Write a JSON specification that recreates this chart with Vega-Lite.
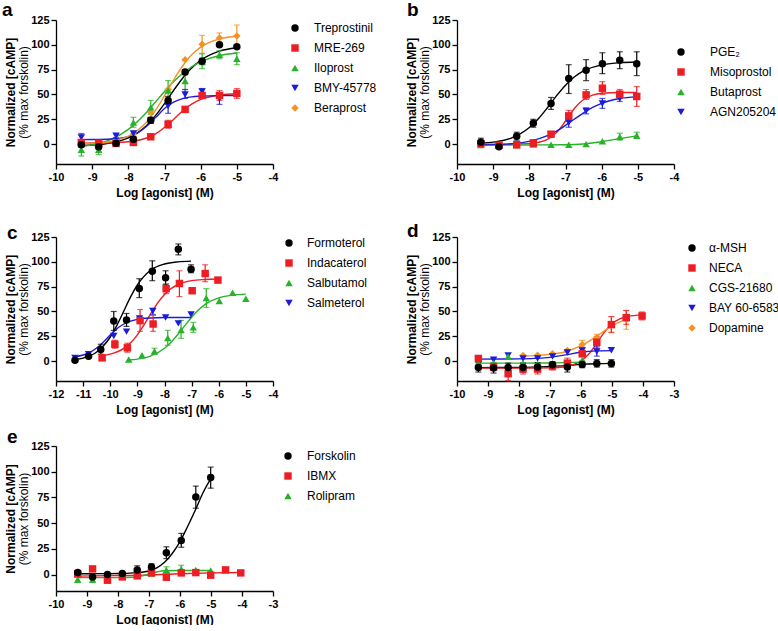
{
"$schema":"https://vega.github.io/schema/vega-lite/v6.json",
"background":"white",
"padding":{"left":2,"top":1,"right":0,"bottom":0},
"datasets":{
"a_pts":[
{"s":"Beraprost","x":-9.3,"y":1},{"s":"Beraprost","x":-8.82,"y":1.5},{"s":"Beraprost","x":-8.34,"y":1.5},{"s":"Beraprost","x":-7.86,"y":10},{"s":"Beraprost","x":-7.38,"y":32},{"s":"Beraprost","x":-6.9,"y":55},{"s":"Beraprost","x":-6.43,"y":85},{"s":"Beraprost","x":-5.96,"y":100.5,"lo":91.5,"hi":109.5},{"s":"Beraprost","x":-5.48,"y":107,"lo":102,"hi":112},{"s":"Beraprost","x":-5.0,"y":109,"lo":98,"hi":120},
{"s":"BMY-45778","x":-9.3,"y":6.7,"lo":2.7,"hi":10.7},{"s":"BMY-45778","x":-8.82,"y":2},{"s":"BMY-45778","x":-8.34,"y":8.4,"lo":6.4,"hi":10.4},{"s":"BMY-45778","x":-7.86,"y":10.7},{"s":"BMY-45778","x":-7.38,"y":23.5,"lo":21,"hi":26},{"s":"BMY-45778","x":-6.9,"y":38.5,"lo":31,"hi":46},{"s":"BMY-45778","x":-6.43,"y":50,"lo":46,"hi":55},{"s":"BMY-45778","x":-5.96,"y":53,"lo":50,"hi":56},{"s":"BMY-45778","x":-5.48,"y":46,"lo":40,"hi":50},
{"s":"Iloprost","x":-9.3,"y":-5.7,"lo":-12,"hi":1},{"s":"Iloprost","x":-8.82,"y":-5.7,"lo":-10.5,"hi":-1},{"s":"Iloprost","x":-8.34,"y":1.7},{"s":"Iloprost","x":-7.86,"y":21.8,"lo":17,"hi":27},{"s":"Iloprost","x":-7.38,"y":37,"lo":30,"hi":44},{"s":"Iloprost","x":-6.9,"y":54,"lo":45,"hi":64},{"s":"Iloprost","x":-6.43,"y":63.5,"lo":55,"hi":70},{"s":"Iloprost","x":-5.96,"y":82.8,"lo":76,"hi":91},{"s":"Iloprost","x":-5.48,"y":90,"lo":86,"hi":94},{"s":"Iloprost","x":-5.0,"y":86,"lo":80,"hi":92},
{"s":"MRE-269","x":-9.3,"y":1.7,"lo":-0.5,"hi":4},{"s":"MRE-269","x":-8.82,"y":1},{"s":"MRE-269","x":-8.34,"y":0.7},{"s":"MRE-269","x":-7.86,"y":1.7,"lo":0,"hi":3.5},{"s":"MRE-269","x":-7.38,"y":7.4},{"s":"MRE-269","x":-6.9,"y":20,"lo":16,"hi":24},{"s":"MRE-269","x":-6.43,"y":35,"lo":32.5,"hi":37.5},{"s":"MRE-269","x":-5.96,"y":49,"lo":46.5,"hi":51.5},{"s":"MRE-269","x":-5.48,"y":49,"lo":44,"hi":54},{"s":"MRE-269","x":-5.0,"y":51,"lo":46,"hi":56},
{"s":"Treprostinil","x":-9.3,"y":-0.7,"lo":-3,"hi":1.5},{"s":"Treprostinil","x":-8.82,"y":-2.7,"lo":-5,"hi":-0.5},{"s":"Treprostinil","x":-8.34,"y":1},{"s":"Treprostinil","x":-7.86,"y":5,"lo":2.5,"hi":7.5},{"s":"Treprostinil","x":-7.38,"y":24,"lo":21,"hi":27},{"s":"Treprostinil","x":-6.9,"y":44,"lo":40,"hi":48},{"s":"Treprostinil","x":-6.43,"y":72.7,"lo":70,"hi":75},{"s":"Treprostinil","x":-5.96,"y":83.5,"lo":80.5,"hi":86.5},{"s":"Treprostinil","x":-5.48,"y":100},{"s":"Treprostinil","x":-5.0,"y":98}
],
"a_fit":[
{"s":"Treprostinil","x":-9.3,"y":-1.4},{"s":"Treprostinil","x":-9,"y":-0.9},{"s":"Treprostinil","x":-8.5,"y":1.2},{"s":"Treprostinil","x":-8,"y":6.4},{"s":"Treprostinil","x":-7.5,"y":18.6},{"s":"Treprostinil","x":-7.25,"y":28.7},{"s":"Treprostinil","x":-7,"y":40.8},{"s":"Treprostinil","x":-6.75,"y":54},{"s":"Treprostinil","x":-6.5,"y":66.3},{"s":"Treprostinil","x":-6.25,"y":76.7},{"s":"Treprostinil","x":-6,"y":84.4},{"s":"Treprostinil","x":-5.5,"y":93.4},{"s":"Treprostinil","x":-5,"y":97},
{"s":"MRE-269","x":-9.3,"y":1},{"s":"MRE-269","x":-9,"y":1.1},{"s":"MRE-269","x":-8.5,"y":1.4},{"s":"MRE-269","x":-8,"y":2.4},{"s":"MRE-269","x":-7.5,"y":6.2},{"s":"MRE-269","x":-7.25,"y":10.3},{"s":"MRE-269","x":-7,"y":16.8},{"s":"MRE-269","x":-6.75,"y":24.9},{"s":"MRE-269","x":-6.5,"y":33.4},{"s":"MRE-269","x":-6.25,"y":40.2},{"s":"MRE-269","x":-6,"y":45},{"s":"MRE-269","x":-5.5,"y":49.4},{"s":"MRE-269","x":-5,"y":50.8},
{"s":"Iloprost","x":-9.3,"y":-2.4},{"s":"Iloprost","x":-9,"y":-0.8},{"s":"Iloprost","x":-8.5,"y":4.5},{"s":"Iloprost","x":-8,"y":14.9},{"s":"Iloprost","x":-7.5,"y":31.9},{"s":"Iloprost","x":-7.25,"y":42.4},{"s":"Iloprost","x":-7,"y":53},{"s":"Iloprost","x":-6.75,"y":62.8},{"s":"Iloprost","x":-6.5,"y":71.2},{"s":"Iloprost","x":-6.25,"y":77.9},{"s":"Iloprost","x":-6,"y":82.9},{"s":"Iloprost","x":-5.5,"y":89},{"s":"Iloprost","x":-5,"y":91.8},
{"s":"BMY-45778","x":-9.3,"y":4.5},{"s":"BMY-45778","x":-9,"y":4.6},{"s":"BMY-45778","x":-8.5,"y":5.1},{"s":"BMY-45778","x":-8,"y":7.6},{"s":"BMY-45778","x":-7.75,"y":11.2},{"s":"BMY-45778","x":-7.5,"y":17.7},{"s":"BMY-45778","x":-7.25,"y":26.7},{"s":"BMY-45778","x":-7,"y":35.8},{"s":"BMY-45778","x":-6.75,"y":42.3},{"s":"BMY-45778","x":-6.5,"y":45.9},{"s":"BMY-45778","x":-6.25,"y":47.6},{"s":"BMY-45778","x":-6,"y":48.3},{"s":"BMY-45778","x":-5.5,"y":48.9},{"s":"BMY-45778","x":-5,"y":49},
{"s":"Beraprost","x":-9.3,"y":0.4},{"s":"Beraprost","x":-9,"y":0.9},{"s":"Beraprost","x":-8.5,"y":2.7},{"s":"Beraprost","x":-8,"y":8.1},{"s":"Beraprost","x":-7.75,"y":13.6},{"s":"Beraprost","x":-7.5,"y":22.1},{"s":"Beraprost","x":-7.25,"y":34},{"s":"Beraprost","x":-7,"y":48.7},{"s":"Beraprost","x":-6.75,"y":64.4},{"s":"Beraprost","x":-6.5,"y":78.7},{"s":"Beraprost","x":-6.25,"y":89.9},{"s":"Beraprost","x":-6,"y":97.7},{"s":"Beraprost","x":-5.5,"y":105.8},{"s":"Beraprost","x":-5,"y":108.6}
],
"b_pts":[
{"s":"AGN205204","x":-9.34,"y":0},{"s":"AGN205204","x":-8.84,"y":-1},{"s":"AGN205204","x":-8.35,"y":-0.3},{"s":"AGN205204","x":-7.89,"y":1.5},{"s":"AGN205204","x":-7.4,"y":10},{"s":"AGN205204","x":-6.91,"y":21.8,"lo":17,"hi":27},{"s":"AGN205204","x":-6.43,"y":33.5,"lo":30.5,"hi":36.5},{"s":"AGN205204","x":-5.98,"y":41,"lo":36,"hi":46},{"s":"AGN205204","x":-5.5,"y":46,"lo":43,"hi":49},{"s":"AGN205204","x":-5.03,"y":48,"lo":45,"hi":51},
{"s":"Butaprost","x":-9.34,"y":-1},{"s":"Butaprost","x":-8.84,"y":-1},{"s":"Butaprost","x":-8.35,"y":-1},{"s":"Butaprost","x":-7.89,"y":-0.3},{"s":"Butaprost","x":-7.4,"y":-0.7},{"s":"Butaprost","x":-6.91,"y":-0.7},{"s":"Butaprost","x":-6.43,"y":0},{"s":"Butaprost","x":-5.98,"y":3},{"s":"Butaprost","x":-5.5,"y":7.4,"lo":4,"hi":11},{"s":"Butaprost","x":-5.03,"y":8.7,"lo":5.5,"hi":12},
{"s":"Misoprostol","x":-9.34,"y":0.5},{"s":"Misoprostol","x":-8.84,"y":-1},{"s":"Misoprostol","x":-8.35,"y":-0.7},{"s":"Misoprostol","x":-7.89,"y":1},{"s":"Misoprostol","x":-7.4,"y":10,"lo":8,"hi":12},{"s":"Misoprostol","x":-6.91,"y":28.5,"lo":23,"hi":34},{"s":"Misoprostol","x":-6.43,"y":49.6,"lo":45,"hi":55},{"s":"Misoprostol","x":-5.98,"y":56.3,"lo":50,"hi":63},{"s":"Misoprostol","x":-5.5,"y":50.3,"lo":46,"hi":55},{"s":"Misoprostol","x":-5.03,"y":48,"lo":38,"hi":58},
{"s":"PGE₂","x":-9.34,"y":2,"lo":-2,"hi":6},{"s":"PGE₂","x":-8.84,"y":-2.7},{"s":"PGE₂","x":-8.35,"y":8,"lo":4,"hi":12},{"s":"PGE₂","x":-7.89,"y":21,"lo":17,"hi":25},{"s":"PGE₂","x":-7.4,"y":41,"lo":35,"hi":47},{"s":"PGE₂","x":-6.91,"y":66,"lo":51,"hi":80},{"s":"PGE₂","x":-6.43,"y":74.4,"lo":64,"hi":85},{"s":"PGE₂","x":-5.98,"y":81,"lo":71,"hi":92},{"s":"PGE₂","x":-5.5,"y":84.5,"lo":76,"hi":93},{"s":"PGE₂","x":-5.03,"y":81,"lo":69,"hi":93}
],
"b_fit":[
{"s":"PGE₂","x":-9.34,"y":1},{"s":"PGE₂","x":-9,"y":2},{"s":"PGE₂","x":-8.5,"y":6.1},{"s":"PGE₂","x":-8,"y":16.7},{"s":"PGE₂","x":-7.75,"y":25.6},{"s":"PGE₂","x":-7.5,"y":36.7},{"s":"PGE₂","x":-7.25,"y":48.6},{"s":"PGE₂","x":-7,"y":59.4},{"s":"PGE₂","x":-6.75,"y":67.8},{"s":"PGE₂","x":-6.5,"y":73.7},{"s":"PGE₂","x":-6,"y":79.8},{"s":"PGE₂","x":-5.5,"y":82},{"s":"PGE₂","x":-5.03,"y":82.7},
{"s":"Misoprostol","x":-9.34,"y":0},{"s":"Misoprostol","x":-8.5,"y":0},{"s":"Misoprostol","x":-8,"y":0.5},{"s":"Misoprostol","x":-7.75,"y":1.8},{"s":"Misoprostol","x":-7.5,"y":4.8},{"s":"Misoprostol","x":-7.25,"y":11.6},{"s":"Misoprostol","x":-7,"y":23.3},{"s":"Misoprostol","x":-6.75,"y":36.2},{"s":"Misoprostol","x":-6.5,"y":45},{"s":"Misoprostol","x":-6.25,"y":49.3},{"s":"Misoprostol","x":-6,"y":51.2},{"s":"Misoprostol","x":-5.5,"y":52},{"s":"Misoprostol","x":-5.03,"y":52},
{"s":"Butaprost","x":-9.34,"y":-0.8},{"s":"Butaprost","x":-8,"y":-0.8},{"s":"Butaprost","x":-7,"y":-0.6},{"s":"Butaprost","x":-6.5,"y":0.2},{"s":"Butaprost","x":-6,"y":2.4},{"s":"Butaprost","x":-5.5,"y":5.6},{"s":"Butaprost","x":-5.03,"y":8.3},
{"s":"AGN205204","x":-9.34,"y":-0.7},{"s":"AGN205204","x":-9,"y":-0.5},{"s":"AGN205204","x":-8.5,"y":0.4},{"s":"AGN205204","x":-8,"y":2.8},{"s":"AGN205204","x":-7.5,"y":8.5},{"s":"AGN205204","x":-7.25,"y":13.1},{"s":"AGN205204","x":-7,"y":18.9},{"s":"AGN205204","x":-6.75,"y":25.3},{"s":"AGN205204","x":-6.5,"y":31.5},{"s":"AGN205204","x":-6.25,"y":36.9},{"s":"AGN205204","x":-6,"y":41},{"s":"AGN205204","x":-5.5,"y":45.9},{"s":"AGN205204","x":-5.03,"y":47.8}
],
"c_pts":[
{"s":"Salmeterol","x":-11.3,"y":3.3},{"s":"Salmeterol","x":-10.8,"y":7},{"s":"Salmeterol","x":-9.87,"y":25.4},{"s":"Salmeterol","x":-9.4,"y":29.7},{"s":"Salmeterol","x":-8.92,"y":43},{"s":"Salmeterol","x":-8.43,"y":50.5,"lo":47,"hi":53},{"s":"Salmeterol","x":-7.96,"y":44},{"s":"Salmeterol","x":-7.49,"y":38},{"s":"Salmeterol","x":-7.02,"y":47},
{"s":"Salbutamol","x":-9.32,"y":1.7},{"s":"Salbutamol","x":-8.83,"y":6},{"s":"Salbutamol","x":-8.37,"y":10,"lo":7,"hi":13},{"s":"Salbutamol","x":-7.88,"y":23.4,"lo":16,"hi":31},{"s":"Salbutamol","x":-7.39,"y":31.4,"lo":23,"hi":41},{"s":"Salbutamol","x":-6.94,"y":34,"lo":29,"hi":39},{"s":"Salbutamol","x":-6.46,"y":63.5,"lo":54,"hi":73},{"s":"Salbutamol","x":-5.98,"y":60.5},{"s":"Salbutamol","x":-5.49,"y":68.8},{"s":"Salbutamol","x":-5.0,"y":62.8},
{"s":"Indacaterol","x":-10.3,"y":3.3},{"s":"Indacaterol","x":-9.83,"y":17,"lo":13,"hi":21},{"s":"Indacaterol","x":-9.37,"y":13.4,"lo":9,"hi":18},{"s":"Indacaterol","x":-8.9,"y":40.8,"lo":30,"hi":52},{"s":"Indacaterol","x":-8.42,"y":37.4,"lo":30,"hi":46},{"s":"Indacaterol","x":-7.94,"y":72.9,"lo":68,"hi":78},{"s":"Indacaterol","x":-7.45,"y":78.2,"lo":65,"hi":91},{"s":"Indacaterol","x":-6.98,"y":70.9},{"s":"Indacaterol","x":-6.5,"y":88.2,"lo":80,"hi":97},{"s":"Indacaterol","x":-6.03,"y":81.6},
{"s":"Formoterol","x":-11.3,"y":1},{"s":"Formoterol","x":-10.8,"y":5},{"s":"Formoterol","x":-10.35,"y":11.7,"lo":7,"hi":17},{"s":"Formoterol","x":-9.87,"y":40.4,"lo":31,"hi":50},{"s":"Formoterol","x":-9.4,"y":41.4,"lo":35,"hi":48},{"s":"Formoterol","x":-8.93,"y":73.2,"lo":64,"hi":83},{"s":"Formoterol","x":-8.45,"y":90.6,"lo":81,"hi":101},{"s":"Formoterol","x":-7.96,"y":84,"lo":77,"hi":91},{"s":"Formoterol","x":-7.49,"y":112.7,"lo":107,"hi":118},{"s":"Formoterol","x":-7.02,"y":92.6,"lo":89,"hi":97}
],
"c_fit":[
{"s":"Formoterol","x":-11.3,"y":1.6},{"s":"Formoterol","x":-11,"y":3.1},{"s":"Formoterol","x":-10.5,"y":9.2},{"s":"Formoterol","x":-10,"y":24.3},{"s":"Formoterol","x":-9.75,"y":36.3},{"s":"Formoterol","x":-9.5,"y":50.5},{"s":"Formoterol","x":-9.25,"y":64.7},{"s":"Formoterol","x":-9,"y":76.7},{"s":"Formoterol","x":-8.5,"y":91.8},{"s":"Formoterol","x":-8,"y":97.8},{"s":"Formoterol","x":-7.5,"y":100},{"s":"Formoterol","x":-7.02,"y":100.7},
{"s":"Indacaterol","x":-10.3,"y":5.5},{"s":"Indacaterol","x":-10,"y":7},{"s":"Indacaterol","x":-9.5,"y":12.8},{"s":"Indacaterol","x":-9.25,"y":18.4},{"s":"Indacaterol","x":-9,"y":26.5},{"s":"Indacaterol","x":-8.75,"y":36.8},{"s":"Indacaterol","x":-8.5,"y":48},{"s":"Indacaterol","x":-8.25,"y":58.6},{"s":"Indacaterol","x":-8,"y":67.2},{"s":"Indacaterol","x":-7.5,"y":77.2},{"s":"Indacaterol","x":-7,"y":81.1},{"s":"Indacaterol","x":-6.5,"y":82.2},{"s":"Indacaterol","x":-6.03,"y":82.7},
{"s":"Salbutamol","x":-9.32,"y":1.1},{"s":"Salbutamol","x":-9,"y":2},{"s":"Salbutamol","x":-8.5,"y":5.3},{"s":"Salbutamol","x":-8,"y":13},{"s":"Salbutamol","x":-7.75,"y":19.3},{"s":"Salbutamol","x":-7.5,"y":27.2},{"s":"Salbutamol","x":-7.25,"y":35.8},{"s":"Salbutamol","x":-7,"y":44.2},{"s":"Salbutamol","x":-6.75,"y":51.5},{"s":"Salbutamol","x":-6.5,"y":57.2},{"s":"Salbutamol","x":-6,"y":63.7},{"s":"Salbutamol","x":-5.5,"y":66.5},{"s":"Salbutamol","x":-5,"y":67.5},
{"s":"Salmeterol","x":-11.3,"y":4.4},{"s":"Salmeterol","x":-11,"y":6.2},{"s":"Salmeterol","x":-10.75,"y":8.9},{"s":"Salmeterol","x":-10.5,"y":13.2},{"s":"Salmeterol","x":-10.25,"y":19.3},{"s":"Salmeterol","x":-10,"y":26.3},{"s":"Salmeterol","x":-9.75,"y":32.7},{"s":"Salmeterol","x":-9.5,"y":37.4},{"s":"Salmeterol","x":-9,"y":42.1},{"s":"Salmeterol","x":-8.5,"y":43.5},{"s":"Salmeterol","x":-8,"y":43.9},{"s":"Salmeterol","x":-7.02,"y":44}
],
"d_pts":[
{"s":"Dopamine","x":-7.87,"y":5.7},{"s":"Dopamine","x":-7.4,"y":6},{"s":"Dopamine","x":-6.92,"y":7.4},{"s":"Dopamine","x":-6.44,"y":10.7},{"s":"Dopamine","x":-5.96,"y":16.7,"lo":12.5,"hi":21},{"s":"Dopamine","x":-5.49,"y":23.4,"lo":19.5,"hi":27},{"s":"Dopamine","x":-5.02,"y":36.4,"lo":28.5,"hi":44.5},{"s":"Dopamine","x":-4.54,"y":42,"lo":32,"hi":51},
{"s":"BAY 60-6583","x":-9.31,"y":2},{"s":"BAY 60-6583","x":-8.82,"y":1.3},{"s":"BAY 60-6583","x":-8.35,"y":5.7},{"s":"BAY 60-6583","x":-7.87,"y":2.7},{"s":"BAY 60-6583","x":-7.4,"y":2.7},{"s":"BAY 60-6583","x":-6.92,"y":4.7},{"s":"BAY 60-6583","x":-6.44,"y":8.7},{"s":"BAY 60-6583","x":-5.96,"y":10.7,"lo":7,"hi":14},{"s":"BAY 60-6583","x":-5.49,"y":9.7,"lo":5,"hi":14.5},{"s":"BAY 60-6583","x":-5.02,"y":11},
{"s":"CGS-21680","x":-9.31,"y":-1.5},{"s":"CGS-21680","x":-8.82,"y":-2},{"s":"CGS-21680","x":-8.35,"y":4.7},{"s":"CGS-21680","x":-7.87,"y":-2},{"s":"CGS-21680","x":-7.4,"y":-2.5},{"s":"CGS-21680","x":-6.92,"y":-2},{"s":"CGS-21680","x":-6.44,"y":-1},{"s":"CGS-21680","x":-5.96,"y":1},
{"s":"NECA","x":-9.31,"y":2.7},{"s":"NECA","x":-8.82,"y":-6},{"s":"NECA","x":-8.35,"y":-12.7,"lo":-19.5,"hi":-6},{"s":"NECA","x":-7.87,"y":-8,"lo":-13,"hi":-3},{"s":"NECA","x":-7.4,"y":-8,"lo":-13,"hi":-3},{"s":"NECA","x":-6.92,"y":-5,"lo":-9,"hi":-1},{"s":"NECA","x":-6.44,"y":-2,"lo":-7,"hi":3},{"s":"NECA","x":-5.96,"y":7.4,"lo":4.5,"hi":10.5},{"s":"NECA","x":-5.49,"y":19,"lo":13,"hi":25},{"s":"NECA","x":-5.02,"y":36.8,"lo":29,"hi":45},{"s":"NECA","x":-4.54,"y":43.8,"lo":37,"hi":51},{"s":"NECA","x":-4.03,"y":45.5,"lo":41.5,"hi":49.5},
{"s":"α-MSH","x":-9.31,"y":-6.4,"lo":-11,"hi":-1.5},{"s":"α-MSH","x":-8.82,"y":-7,"lo":-12,"hi":-2},{"s":"α-MSH","x":-8.35,"y":-6.4,"lo":-11,"hi":-2},{"s":"α-MSH","x":-7.87,"y":-6.4,"lo":-11,"hi":-2},{"s":"α-MSH","x":-7.4,"y":-6,"lo":-10.5,"hi":-1.5},{"s":"α-MSH","x":-6.92,"y":-3.7,"lo":-7,"hi":-0.5},{"s":"α-MSH","x":-6.44,"y":-6,"lo":-11,"hi":-1},{"s":"α-MSH","x":-5.96,"y":-3.3,"lo":-6.5,"hi":0},{"s":"α-MSH","x":-5.49,"y":-2.3,"lo":-6,"hi":1.5},{"s":"α-MSH","x":-5.02,"y":-2.3,"lo":-6,"hi":1.5}
],
"d_fit":[
{"s":"α-MSH","x":-9.31,"y":-6.5},{"s":"α-MSH","x":-8,"y":-6.3},{"s":"α-MSH","x":-7,"y":-5.3},{"s":"α-MSH","x":-6.5,"y":-4.5},{"s":"α-MSH","x":-6,"y":-3.3},{"s":"α-MSH","x":-5.5,"y":-2.6},{"s":"α-MSH","x":-5.02,"y":-2.3},
{"s":"NECA","x":-9.31,"y":-7},{"s":"NECA","x":-8,"y":-7},{"s":"NECA","x":-7,"y":-6.7},{"s":"NECA","x":-6.5,"y":-5.6},{"s":"NECA","x":-6.25,"y":-3.5},{"s":"NECA","x":-6,"y":0},{"s":"NECA","x":-5.75,"y":7.1},{"s":"NECA","x":-5.5,"y":17.7},{"s":"NECA","x":-5.25,"y":29},{"s":"NECA","x":-5,"y":37.6},{"s":"NECA","x":-4.75,"y":42.6},{"s":"NECA","x":-4.5,"y":45},{"s":"NECA","x":-4.03,"y":46.6},
{"s":"CGS-21680","x":-9.31,"y":-2},{"s":"CGS-21680","x":-8,"y":-2},{"s":"CGS-21680","x":-7,"y":-1.8},{"s":"CGS-21680","x":-5.96,"y":-1},
{"s":"BAY 60-6583","x":-9.31,"y":2},{"s":"BAY 60-6583","x":-8.5,"y":2.1},{"s":"BAY 60-6583","x":-8,"y":2.3},{"s":"BAY 60-6583","x":-7.5,"y":2.8},{"s":"BAY 60-6583","x":-7,"y":3.8},{"s":"BAY 60-6583","x":-6.5,"y":6.3},{"s":"BAY 60-6583","x":-6,"y":9},{"s":"BAY 60-6583","x":-5.5,"y":10.3},{"s":"BAY 60-6583","x":-5.02,"y":10.6},
{"s":"Dopamine","x":-7.87,"y":5.2},{"s":"Dopamine","x":-7.5,"y":5.6},{"s":"Dopamine","x":-7,"y":6.8},{"s":"Dopamine","x":-6.5,"y":9.5},{"s":"Dopamine","x":-6,"y":15.5},{"s":"Dopamine","x":-5.5,"y":25},{"s":"Dopamine","x":-5,"y":35.5},{"s":"Dopamine","x":-4.54,"y":42}
],
"e_pts":[
{"s":"Rolipram","x":-9.3,"y":-4.8,"lo":-7.8,"hi":-1.8},{"s":"Rolipram","x":-8.82,"y":-4.8,"lo":-7.8,"hi":-1.8},{"s":"Rolipram","x":-8.34,"y":-3},{"s":"Rolipram","x":-7.86,"y":-2},{"s":"Rolipram","x":-7.38,"y":-1.6},{"s":"Rolipram","x":-6.92,"y":1},{"s":"Rolipram","x":-6.44,"y":4.5,"lo":1.5,"hi":7.5},{"s":"Rolipram","x":-5.96,"y":5.5,"lo":1.5,"hi":9},{"s":"Rolipram","x":-5.49,"y":4.5},{"s":"Rolipram","x":-5.01,"y":3.9},
{"s":"IBMX","x":-9.3,"y":0.5},{"s":"IBMX","x":-8.82,"y":5.5},{"s":"IBMX","x":-8.34,"y":-5.5},{"s":"IBMX","x":-7.86,"y":-2.3},{"s":"IBMX","x":-7.38,"y":-1},{"s":"IBMX","x":-6.92,"y":1.6},{"s":"IBMX","x":-6.44,"y":-2.6},{"s":"IBMX","x":-5.96,"y":1.6},{"s":"IBMX","x":-5.49,"y":1.9},{"s":"IBMX","x":-5.01,"y":-0.6},{"s":"IBMX","x":-4.53,"y":4.5},{"s":"IBMX","x":-4.04,"y":1.6},
{"s":"Forskolin","x":-9.3,"y":1.9},{"s":"Forskolin","x":-8.82,"y":-2.3},{"s":"Forskolin","x":-8.34,"y":0},{"s":"Forskolin","x":-7.86,"y":1},{"s":"Forskolin","x":-7.38,"y":4.5,"lo":0.5,"hi":8.5},{"s":"Forskolin","x":-6.92,"y":7.4,"lo":4.5,"hi":10.5},{"s":"Forskolin","x":-6.44,"y":21.3,"lo":15.5,"hi":27},{"s":"Forskolin","x":-5.96,"y":33,"lo":26.5,"hi":40},{"s":"Forskolin","x":-5.49,"y":75.3,"lo":64.5,"hi":86},{"s":"Forskolin","x":-5.01,"y":94.3,"lo":84,"hi":104.5}
],
"e_fit":[
{"s":"Forskolin","x":-9.3,"y":0.8},{"s":"Forskolin","x":-8.5,"y":0.9},{"s":"Forskolin","x":-8,"y":1},{"s":"Forskolin","x":-7.5,"y":1.6},{"s":"Forskolin","x":-7,"y":3.5},{"s":"Forskolin","x":-6.75,"y":6.5},{"s":"Forskolin","x":-6.5,"y":12},{"s":"Forskolin","x":-6.25,"y":20.5},{"s":"Forskolin","x":-6,"y":32},{"s":"Forskolin","x":-5.75,"y":47},{"s":"Forskolin","x":-5.5,"y":63},{"s":"Forskolin","x":-5.25,"y":80},{"s":"Forskolin","x":-5.01,"y":93},
{"s":"IBMX","x":-9.3,"y":-1.5},{"s":"IBMX","x":-8,"y":-1},{"s":"IBMX","x":-7,"y":-0.4},{"s":"IBMX","x":-6,"y":0.8},{"s":"IBMX","x":-5,"y":1.6},{"s":"IBMX","x":-4.04,"y":2},
{"s":"Rolipram","x":-9.3,"y":-3},{"s":"Rolipram","x":-8,"y":-3},{"s":"Rolipram","x":-7.5,"y":-2.6},{"s":"Rolipram","x":-7.25,"y":-1.5},{"s":"Rolipram","x":-7,"y":0.5},{"s":"Rolipram","x":-6.75,"y":2.5},{"s":"Rolipram","x":-6.5,"y":3.7},{"s":"Rolipram","x":-6,"y":4},{"s":"Rolipram","x":-5.01,"y":4}
]
},
"concat":[
{"width":217,"height":144,
"resolve":{"scale":{"y":"independent"},"axis":{"y":"independent"}},
"layer":[
{"data":{"name":"a_fit"},"mark":{"type":"line","interpolate":"monotone","strokeWidth":1.4},
"encoding":{"x":{"field":"x","type":"quantitative","scale":{"domain":[-10,-4],"nice":false,"zero":false},"axis":{"values":[-10,-9,-8,-7,-6,-5,-4],"labelExpr":"'' + datum.value","title":"Log [agonist] (M)","labelFlush":false,"labelOverlap":false,"titlePadding":5}},
"y":{"field":"y","type":"quantitative","scale":{"domain":[-20,125],"nice":false,"zero":false},"axis":{"orient":"left","title":"(% max forskolin)","titleFontWeight":"normal","labels":false,"ticks":false,"domain":false,"titlePadding":26}},
"stroke":{"field":"s","type":"nominal","scale":{"domain":["Treprostinil","MRE-269","Iloprost","BMY-45778","Beraprost","~"],"range":["#000000","#ee1d23","#27b22a","#1b1bd9","#f39323","#000000"]},"legend":null}}},
{"data":{"name":"a_pts"},"transform":[{"filter":"isValid(datum.lo)"}],"mark":{"type":"rule","strokeWidth":1.2},
"encoding":{"x":{"field":"x","type":"quantitative","scale":{"domain":[-10,-4],"nice":false,"zero":false},"axis":{"values":[-10,-9,-8,-7,-6,-5,-4],"labelExpr":"'' + datum.value","title":"Log [agonist] (M)","labelFlush":false,"labelOverlap":false,"titlePadding":5}},
"y":{"field":"lo","type":"quantitative","scale":{"domain":[-20,125],"nice":false,"zero":false},"axis":null},"y2":{"field":"hi"},
"stroke":{"field":"s","type":"nominal","legend":null}}},
{"data":{"name":"a_pts"},"transform":[{"filter":"isValid(datum.lo)"}],"mark":{"type":"tick","orient":"horizontal","size":6,"thickness":1.2},
"encoding":{"x":{"field":"x","type":"quantitative","scale":{"domain":[-10,-4],"nice":false,"zero":false},"axis":{"values":[-10,-9,-8,-7,-6,-5,-4],"labelExpr":"'' + datum.value","title":"Log [agonist] (M)","labelFlush":false,"labelOverlap":false,"titlePadding":5}},
"y":{"field":"lo","type":"quantitative","scale":{"domain":[-20,125],"nice":false,"zero":false},"axis":null},
"fill":{"field":"s","type":"nominal","scale":{"domain":["Treprostinil","MRE-269","Iloprost","BMY-45778","Beraprost","~~"],"range":["#000000","#ee1d23","#27b22a","#1b1bd9","#f39323","#000000"]},"legend":null}}},
{"data":{"name":"a_pts"},"transform":[{"filter":"isValid(datum.hi)"}],"mark":{"type":"tick","orient":"horizontal","size":6,"thickness":1.2},
"encoding":{"x":{"field":"x","type":"quantitative","scale":{"domain":[-10,-4],"nice":false,"zero":false},"axis":{"values":[-10,-9,-8,-7,-6,-5,-4],"labelExpr":"'' + datum.value","title":"Log [agonist] (M)","labelFlush":false,"labelOverlap":false,"titlePadding":5}},
"y":{"field":"hi","type":"quantitative","scale":{"domain":[-20,125],"nice":false,"zero":false},"axis":null},
"fill":{"field":"s","type":"nominal","legend":null}}},
{"data":{"name":"a_pts"},"mark":{"type":"point","filled":true,"opacity":1},
"encoding":{"x":{"field":"x","type":"quantitative","scale":{"domain":[-10,-4],"nice":false,"zero":false},"axis":{"values":[-10,-9,-8,-7,-6,-5,-4],"labelExpr":"'' + datum.value","title":"Log [agonist] (M)","labelFlush":false,"labelOverlap":false,"titlePadding":5}},
"y":{"field":"y","type":"quantitative","scale":{"domain":[-20,125],"nice":false,"zero":false},"axis":{"orient":"left","values":[0,25,50,75,100,125],"title":"Normalized [cAMP]","titlePadding":13}},
"size":{"field":"s","type":"nominal","scale":{"domain":["Treprostinil","MRE-269","Iloprost","BMY-45778","Beraprost","~~~"],"range":[56,55,58,58,38,50]},"legend":null},
"color":{"field":"s","type":"nominal","scale":{"domain":["Treprostinil","MRE-269","Iloprost","BMY-45778","Beraprost"],"range":["#000000","#ee1d23","#27b22a","#1b1bd9","#f39323"]},"legend":{"orient":"none","legendX":233,"legendY":2,"title":null,"labelOffset":13}},
"shape":{"field":"s","type":"nominal","scale":{"domain":["Treprostinil","MRE-269","Iloprost","BMY-45778","Beraprost"],"range":["circle","square","triangle-up","triangle-down","diamond"]},"legend":{"orient":"none","legendX":233,"legendY":2,"title":null,"labelOffset":13}}}},
{"data":{"values":[{}]},"mark":{"type":"text","text":"a","fontSize":19,"fontWeight":"bold","align":"left","baseline":"alphabetic","color":"#000","font":"Liberation Sans"},
"encoding":{"x":{"datum":-11.49,"type":"quantitative","scale":{"domain":[-10,-4],"nice":false,"zero":false},"axis":{"values":[-10,-9,-8,-7,-6,-5,-4],"labelExpr":"'' + datum.value","title":"Log [agonist] (M)","labelFlush":false,"labelOverlap":false,"titlePadding":5}},
"y":{"datum":129,"type":"quantitative","scale":{"domain":[-20,125],"nice":false,"zero":false},"axis":null}}}
]},
{"width":217,"height":144,
"resolve":{"scale":{"y":"independent"},"axis":{"y":"independent"}},
"layer":[
{"data":{"name":"b_fit"},"mark":{"type":"line","interpolate":"monotone","strokeWidth":1.4},
"encoding":{"x":{"field":"x","type":"quantitative","scale":{"domain":[-10,-4],"nice":false,"zero":false},"axis":{"values":[-10,-9,-8,-7,-6,-5,-4],"labelExpr":"'' + datum.value","title":"Log [agonist] (M)","labelFlush":false,"labelOverlap":false,"titlePadding":5}},
"y":{"field":"y","type":"quantitative","scale":{"domain":[-20,125],"nice":false,"zero":false},"axis":{"orient":"left","title":"(% max forskolin)","titleFontWeight":"normal","labels":false,"ticks":false,"domain":false,"titlePadding":26}},
"stroke":{"field":"s","type":"nominal","scale":{"domain":["PGE₂","Misoprostol","Butaprost","AGN205204","~"],"range":["#000000","#ee1d23","#27b22a","#1b1bd9","#000000"]},"legend":null}}},
{"data":{"name":"b_pts"},"transform":[{"filter":"isValid(datum.lo)"}],"mark":{"type":"rule","strokeWidth":1.2},
"encoding":{"x":{"field":"x","type":"quantitative","scale":{"domain":[-10,-4],"nice":false,"zero":false},"axis":{"values":[-10,-9,-8,-7,-6,-5,-4],"labelExpr":"'' + datum.value","title":"Log [agonist] (M)","labelFlush":false,"labelOverlap":false,"titlePadding":5}},
"y":{"field":"lo","type":"quantitative","scale":{"domain":[-20,125],"nice":false,"zero":false},"axis":null},"y2":{"field":"hi"},
"stroke":{"field":"s","type":"nominal","legend":null}}},
{"data":{"name":"b_pts"},"transform":[{"filter":"isValid(datum.lo)"}],"mark":{"type":"tick","orient":"horizontal","size":6,"thickness":1.2},
"encoding":{"x":{"field":"x","type":"quantitative","scale":{"domain":[-10,-4],"nice":false,"zero":false},"axis":{"values":[-10,-9,-8,-7,-6,-5,-4],"labelExpr":"'' + datum.value","title":"Log [agonist] (M)","labelFlush":false,"labelOverlap":false,"titlePadding":5}},
"y":{"field":"lo","type":"quantitative","scale":{"domain":[-20,125],"nice":false,"zero":false},"axis":null},
"fill":{"field":"s","type":"nominal","scale":{"domain":["PGE₂","Misoprostol","Butaprost","AGN205204","~~"],"range":["#000000","#ee1d23","#27b22a","#1b1bd9","#000000"]},"legend":null}}},
{"data":{"name":"b_pts"},"transform":[{"filter":"isValid(datum.hi)"}],"mark":{"type":"tick","orient":"horizontal","size":6,"thickness":1.2},
"encoding":{"x":{"field":"x","type":"quantitative","scale":{"domain":[-10,-4],"nice":false,"zero":false},"axis":{"values":[-10,-9,-8,-7,-6,-5,-4],"labelExpr":"'' + datum.value","title":"Log [agonist] (M)","labelFlush":false,"labelOverlap":false,"titlePadding":5}},
"y":{"field":"hi","type":"quantitative","scale":{"domain":[-20,125],"nice":false,"zero":false},"axis":null},
"fill":{"field":"s","type":"nominal","legend":null}}},
{"data":{"name":"b_pts"},"mark":{"type":"point","filled":true,"opacity":1},
"encoding":{"x":{"field":"x","type":"quantitative","scale":{"domain":[-10,-4],"nice":false,"zero":false},"axis":{"values":[-10,-9,-8,-7,-6,-5,-4],"labelExpr":"'' + datum.value","title":"Log [agonist] (M)","labelFlush":false,"labelOverlap":false,"titlePadding":5}},
"y":{"field":"y","type":"quantitative","scale":{"domain":[-20,125],"nice":false,"zero":false},"axis":{"orient":"left","values":[0,25,50,75,100,125],"title":"Normalized [cAMP]","titlePadding":13}},
"size":{"field":"s","type":"nominal","scale":{"domain":["PGE₂","Misoprostol","Butaprost","AGN205204","~~~"],"range":[56,55,58,58,50]},"legend":null},
"color":{"field":"s","type":"nominal","scale":{"domain":["PGE₂","Misoprostol","Butaprost","AGN205204"],"range":["#000000","#ee1d23","#27b22a","#1b1bd9"]},"legend":{"orient":"none","legendX":218,"legendY":26,"title":null,"labelOffset":23}},
"shape":{"field":"s","type":"nominal","scale":{"domain":["PGE₂","Misoprostol","Butaprost","AGN205204"],"range":["circle","square","triangle-up","triangle-down"]},"legend":{"orient":"none","legendX":218,"legendY":26,"title":null,"labelOffset":23}}}},
{"data":{"values":[{}]},"mark":{"type":"text","text":"b","fontSize":19,"fontWeight":"bold","align":"left","baseline":"alphabetic","color":"#000","font":"Liberation Sans"},
"encoding":{"x":{"datum":-11.38,"type":"quantitative","scale":{"domain":[-10,-4],"nice":false,"zero":false},"axis":{"values":[-10,-9,-8,-7,-6,-5,-4],"labelExpr":"'' + datum.value","title":"Log [agonist] (M)","labelFlush":false,"labelOverlap":false,"titlePadding":5}},
"y":{"datum":129,"type":"quantitative","scale":{"domain":[-20,125],"nice":false,"zero":false},"axis":null}}}
]},
{"width":217,"height":152,
"resolve":{"scale":{"y":"independent"},"axis":{"y":"independent"}},
"layer":[
{"data":{"name":"c_fit"},"mark":{"type":"line","interpolate":"monotone","strokeWidth":1.4},
"encoding":{"x":{"field":"x","type":"quantitative","scale":{"domain":[-12,-4],"nice":false,"zero":false},"axis":{"values":[-12,-11,-10,-9,-8,-7,-6,-5,-4],"labelExpr":"'' + datum.value","title":"Log [agonist] (M)","labelFlush":false,"labelOverlap":false,"titlePadding":5}},
"y":{"field":"y","type":"quantitative","scale":{"domain":[-20,125],"range":[152,8],"nice":false,"zero":false},"axis":{"orient":"left","title":"(% max forskolin)","titleFontWeight":"normal","labels":false,"ticks":false,"domain":false,"titlePadding":26}},
"stroke":{"field":"s","type":"nominal","scale":{"domain":["Formoterol","Indacaterol","Salbutamol","Salmeterol","~"],"range":["#000000","#ee1d23","#27b22a","#1b1bd9","#000000"]},"legend":null}}},
{"data":{"name":"c_pts"},"transform":[{"filter":"isValid(datum.lo)"}],"mark":{"type":"rule","strokeWidth":1.2},
"encoding":{"x":{"field":"x","type":"quantitative","scale":{"domain":[-12,-4],"nice":false,"zero":false},"axis":{"values":[-12,-11,-10,-9,-8,-7,-6,-5,-4],"labelExpr":"'' + datum.value","title":"Log [agonist] (M)","labelFlush":false,"labelOverlap":false,"titlePadding":5}},
"y":{"field":"lo","type":"quantitative","scale":{"domain":[-20,125],"range":[152,8],"nice":false,"zero":false},"axis":null},"y2":{"field":"hi"},
"stroke":{"field":"s","type":"nominal","legend":null}}},
{"data":{"name":"c_pts"},"transform":[{"filter":"isValid(datum.lo)"}],"mark":{"type":"tick","orient":"horizontal","size":6,"thickness":1.2},
"encoding":{"x":{"field":"x","type":"quantitative","scale":{"domain":[-12,-4],"nice":false,"zero":false},"axis":{"values":[-12,-11,-10,-9,-8,-7,-6,-5,-4],"labelExpr":"'' + datum.value","title":"Log [agonist] (M)","labelFlush":false,"labelOverlap":false,"titlePadding":5}},
"y":{"field":"lo","type":"quantitative","scale":{"domain":[-20,125],"range":[152,8],"nice":false,"zero":false},"axis":null},
"fill":{"field":"s","type":"nominal","scale":{"domain":["Formoterol","Indacaterol","Salbutamol","Salmeterol","~~"],"range":["#000000","#ee1d23","#27b22a","#1b1bd9","#000000"]},"legend":null}}},
{"data":{"name":"c_pts"},"transform":[{"filter":"isValid(datum.hi)"}],"mark":{"type":"tick","orient":"horizontal","size":6,"thickness":1.2},
"encoding":{"x":{"field":"x","type":"quantitative","scale":{"domain":[-12,-4],"nice":false,"zero":false},"axis":{"values":[-12,-11,-10,-9,-8,-7,-6,-5,-4],"labelExpr":"'' + datum.value","title":"Log [agonist] (M)","labelFlush":false,"labelOverlap":false,"titlePadding":5}},
"y":{"field":"hi","type":"quantitative","scale":{"domain":[-20,125],"range":[152,8],"nice":false,"zero":false},"axis":null},
"fill":{"field":"s","type":"nominal","legend":null}}},
{"data":{"name":"c_pts"},"mark":{"type":"point","filled":true,"opacity":1},
"encoding":{"x":{"field":"x","type":"quantitative","scale":{"domain":[-12,-4],"nice":false,"zero":false},"axis":{"values":[-12,-11,-10,-9,-8,-7,-6,-5,-4],"labelExpr":"'' + datum.value","title":"Log [agonist] (M)","labelFlush":false,"labelOverlap":false,"titlePadding":5}},
"y":{"field":"y","type":"quantitative","scale":{"domain":[-20,125],"range":[152,8],"nice":false,"zero":false},"axis":{"orient":"left","values":[0,25,50,75,100,125],"title":"Normalized [cAMP]","titlePadding":13}},
"size":{"field":"s","type":"nominal","scale":{"domain":["Formoterol","Indacaterol","Salbutamol","Salmeterol","~~~"],"range":[56,55,58,58,50]},"legend":null},
"color":{"field":"s","type":"nominal","scale":{"domain":["Formoterol","Indacaterol","Salbutamol","Salmeterol"],"range":["#000000","#ee1d23","#27b22a","#1b1bd9"]},"legend":{"orient":"none","legendX":227,"legendY":8,"title":null,"labelOffset":12}},
"shape":{"field":"s","type":"nominal","scale":{"domain":["Formoterol","Indacaterol","Salbutamol","Salmeterol"],"range":["circle","square","triangle-up","triangle-down"]},"legend":{"orient":"none","legendX":227,"legendY":8,"title":null,"labelOffset":12}}}},
{"data":{"values":[{}]},"mark":{"type":"text","text":"c","fontSize":19,"fontWeight":"bold","align":"left","baseline":"alphabetic","color":"#000","font":"Liberation Sans"},
"encoding":{"x":{"datum":-13.81,"type":"quantitative","scale":{"domain":[-12,-4],"nice":false,"zero":false},"axis":{"values":[-12,-11,-10,-9,-8,-7,-6,-5,-4],"labelExpr":"'' + datum.value","title":"Log [agonist] (M)","labelFlush":false,"labelOverlap":false,"titlePadding":5}},
"y":{"datum":123,"type":"quantitative","scale":{"domain":[-20,125],"range":[152,8],"nice":false,"zero":false},"axis":null}}}
]},
{"width":217,"height":152,
"resolve":{"scale":{"y":"independent"},"axis":{"y":"independent"}},
"layer":[
{"data":{"name":"d_fit"},"mark":{"type":"line","interpolate":"monotone","strokeWidth":1.4},
"encoding":{"x":{"field":"x","type":"quantitative","scale":{"domain":[-10,-3],"nice":false,"zero":false},"axis":{"values":[-10,-9,-8,-7,-6,-5,-4,-3],"labelExpr":"'' + datum.value","title":"Log [agonist] (M)","labelFlush":false,"labelOverlap":false,"titlePadding":5}},
"y":{"field":"y","type":"quantitative","scale":{"domain":[-20,125],"range":[152,8],"nice":false,"zero":false},"axis":{"orient":"left","title":"(% max forskolin)","titleFontWeight":"normal","labels":false,"ticks":false,"domain":false,"titlePadding":26}},
"stroke":{"field":"s","type":"nominal","scale":{"domain":["α-MSH","NECA","CGS-21680","BAY 60-6583","Dopamine","~"],"range":["#000000","#ee1d23","#27b22a","#1b1bd9","#f39323","#000000"]},"legend":null}}},
{"data":{"name":"d_pts"},"transform":[{"filter":"isValid(datum.lo)"}],"mark":{"type":"rule","strokeWidth":1.2},
"encoding":{"x":{"field":"x","type":"quantitative","scale":{"domain":[-10,-3],"nice":false,"zero":false},"axis":{"values":[-10,-9,-8,-7,-6,-5,-4,-3],"labelExpr":"'' + datum.value","title":"Log [agonist] (M)","labelFlush":false,"labelOverlap":false,"titlePadding":5}},
"y":{"field":"lo","type":"quantitative","scale":{"domain":[-20,125],"range":[152,8],"nice":false,"zero":false},"axis":null},"y2":{"field":"hi"},
"stroke":{"field":"s","type":"nominal","legend":null}}},
{"data":{"name":"d_pts"},"transform":[{"filter":"isValid(datum.lo)"}],"mark":{"type":"tick","orient":"horizontal","size":6,"thickness":1.2},
"encoding":{"x":{"field":"x","type":"quantitative","scale":{"domain":[-10,-3],"nice":false,"zero":false},"axis":{"values":[-10,-9,-8,-7,-6,-5,-4,-3],"labelExpr":"'' + datum.value","title":"Log [agonist] (M)","labelFlush":false,"labelOverlap":false,"titlePadding":5}},
"y":{"field":"lo","type":"quantitative","scale":{"domain":[-20,125],"range":[152,8],"nice":false,"zero":false},"axis":null},
"fill":{"field":"s","type":"nominal","scale":{"domain":["α-MSH","NECA","CGS-21680","BAY 60-6583","Dopamine","~~"],"range":["#000000","#ee1d23","#27b22a","#1b1bd9","#f39323","#000000"]},"legend":null}}},
{"data":{"name":"d_pts"},"transform":[{"filter":"isValid(datum.hi)"}],"mark":{"type":"tick","orient":"horizontal","size":6,"thickness":1.2},
"encoding":{"x":{"field":"x","type":"quantitative","scale":{"domain":[-10,-3],"nice":false,"zero":false},"axis":{"values":[-10,-9,-8,-7,-6,-5,-4,-3],"labelExpr":"'' + datum.value","title":"Log [agonist] (M)","labelFlush":false,"labelOverlap":false,"titlePadding":5}},
"y":{"field":"hi","type":"quantitative","scale":{"domain":[-20,125],"range":[152,8],"nice":false,"zero":false},"axis":null},
"fill":{"field":"s","type":"nominal","legend":null}}},
{"data":{"name":"d_pts"},"mark":{"type":"point","filled":true,"opacity":1},
"encoding":{"x":{"field":"x","type":"quantitative","scale":{"domain":[-10,-3],"nice":false,"zero":false},"axis":{"values":[-10,-9,-8,-7,-6,-5,-4,-3],"labelExpr":"'' + datum.value","title":"Log [agonist] (M)","labelFlush":false,"labelOverlap":false,"titlePadding":5}},
"y":{"field":"y","type":"quantitative","scale":{"domain":[-20,125],"range":[152,8],"nice":false,"zero":false},"axis":{"orient":"left","values":[0,25,50,75,100,125],"title":"Normalized [cAMP]","titlePadding":13}},
"size":{"field":"s","type":"nominal","scale":{"domain":["α-MSH","NECA","CGS-21680","BAY 60-6583","Dopamine","~~~"],"range":[56,55,58,58,38,50]},"legend":null},
"color":{"field":"s","type":"nominal","scale":{"domain":["α-MSH","NECA","CGS-21680","BAY 60-6583","Dopamine"],"range":["#000000","#ee1d23","#27b22a","#1b1bd9","#f39323"]},"legend":{"orient":"none","legendX":229,"legendY":13,"title":null,"labelOffset":11}},
"shape":{"field":"s","type":"nominal","scale":{"domain":["α-MSH","NECA","CGS-21680","BAY 60-6583","Dopamine"],"range":["circle","square","triangle-up","triangle-down","diamond"]},"legend":{"orient":"none","legendX":229,"legendY":13,"title":null,"labelOffset":11}}}},
{"data":{"values":[{}]},"mark":{"type":"text","text":"d","fontSize":19,"fontWeight":"bold","align":"left","baseline":"alphabetic","color":"#000","font":"Liberation Sans"},
"encoding":{"x":{"datum":-11.61,"type":"quantitative","scale":{"domain":[-10,-3],"nice":false,"zero":false},"axis":{"values":[-10,-9,-8,-7,-6,-5,-4,-3],"labelExpr":"'' + datum.value","title":"Log [agonist] (M)","labelFlush":false,"labelOverlap":false,"titlePadding":5}},
"y":{"datum":124.5,"type":"quantitative","scale":{"domain":[-20,125],"range":[152,8],"nice":false,"zero":false},"axis":null}}}
]},
{"width":217,"height":145,
"resolve":{"scale":{"y":"independent"},"axis":{"y":"independent"}},
"layer":[
{"data":{"name":"e_fit"},"mark":{"type":"line","interpolate":"monotone","strokeWidth":1.4},
"encoding":{"x":{"field":"x","type":"quantitative","scale":{"domain":[-10,-3],"nice":false,"zero":false},"axis":{"values":[-10,-9,-8,-7,-6,-5,-4,-3],"labelExpr":"'' + datum.value","title":"Log [agonist] (M)","labelFlush":false,"labelOverlap":false,"titlePadding":5}},
"y":{"field":"y","type":"quantitative","scale":{"domain":[-16,125],"nice":false,"zero":false},"axis":{"orient":"left","title":"(% max forskolin)","titleFontWeight":"normal","labels":false,"ticks":false,"domain":false,"titlePadding":26}},
"stroke":{"field":"s","type":"nominal","scale":{"domain":["Forskolin","IBMX","Rolipram","~"],"range":["#000000","#ee1d23","#27b22a","#000000"]},"legend":null}}},
{"data":{"name":"e_pts"},"transform":[{"filter":"isValid(datum.lo)"}],"mark":{"type":"rule","strokeWidth":1.2},
"encoding":{"x":{"field":"x","type":"quantitative","scale":{"domain":[-10,-3],"nice":false,"zero":false},"axis":{"values":[-10,-9,-8,-7,-6,-5,-4,-3],"labelExpr":"'' + datum.value","title":"Log [agonist] (M)","labelFlush":false,"labelOverlap":false,"titlePadding":5}},
"y":{"field":"lo","type":"quantitative","scale":{"domain":[-16,125],"nice":false,"zero":false},"axis":null},"y2":{"field":"hi"},
"stroke":{"field":"s","type":"nominal","legend":null}}},
{"data":{"name":"e_pts"},"transform":[{"filter":"isValid(datum.lo)"}],"mark":{"type":"tick","orient":"horizontal","size":6,"thickness":1.2},
"encoding":{"x":{"field":"x","type":"quantitative","scale":{"domain":[-10,-3],"nice":false,"zero":false},"axis":{"values":[-10,-9,-8,-7,-6,-5,-4,-3],"labelExpr":"'' + datum.value","title":"Log [agonist] (M)","labelFlush":false,"labelOverlap":false,"titlePadding":5}},
"y":{"field":"lo","type":"quantitative","scale":{"domain":[-16,125],"nice":false,"zero":false},"axis":null},
"fill":{"field":"s","type":"nominal","scale":{"domain":["Forskolin","IBMX","Rolipram","~~"],"range":["#000000","#ee1d23","#27b22a","#000000"]},"legend":null}}},
{"data":{"name":"e_pts"},"transform":[{"filter":"isValid(datum.hi)"}],"mark":{"type":"tick","orient":"horizontal","size":6,"thickness":1.2},
"encoding":{"x":{"field":"x","type":"quantitative","scale":{"domain":[-10,-3],"nice":false,"zero":false},"axis":{"values":[-10,-9,-8,-7,-6,-5,-4,-3],"labelExpr":"'' + datum.value","title":"Log [agonist] (M)","labelFlush":false,"labelOverlap":false,"titlePadding":5}},
"y":{"field":"hi","type":"quantitative","scale":{"domain":[-16,125],"nice":false,"zero":false},"axis":null},
"fill":{"field":"s","type":"nominal","legend":null}}},
{"data":{"name":"e_pts"},"mark":{"type":"point","filled":true,"opacity":1},
"encoding":{"x":{"field":"x","type":"quantitative","scale":{"domain":[-10,-3],"nice":false,"zero":false},"axis":{"values":[-10,-9,-8,-7,-6,-5,-4,-3],"labelExpr":"'' + datum.value","title":"Log [agonist] (M)","labelFlush":false,"labelOverlap":false,"titlePadding":5}},
"y":{"field":"y","type":"quantitative","scale":{"domain":[-16,125],"nice":false,"zero":false},"axis":{"orient":"left","values":[0,25,50,75,100,125],"title":"Normalized [cAMP]","titlePadding":13}},
"size":{"field":"s","type":"nominal","scale":{"domain":["Forskolin","IBMX","Rolipram","~~~"],"range":[56,55,58,50]},"legend":null},
"color":{"field":"s","type":"nominal","scale":{"domain":["Forskolin","IBMX","Rolipram"],"range":["#000000","#ee1d23","#27b22a"]},"legend":{"orient":"none","legendX":226,"legendY":4,"title":null,"labelOffset":13}},
"shape":{"field":"s","type":"nominal","scale":{"domain":["Forskolin","IBMX","Rolipram"],"range":["circle","square","triangle-up"]},"legend":{"orient":"none","legendX":226,"legendY":4,"title":null,"labelOffset":13}}}},
{"data":{"values":[{}]},"mark":{"type":"text","text":"e","fontSize":19,"fontWeight":"bold","align":"left","baseline":"alphabetic","color":"#000","font":"Liberation Sans"},
"encoding":{"x":{"datum":-11.58,"type":"quantitative","scale":{"domain":[-10,-3],"nice":false,"zero":false},"axis":{"values":[-10,-9,-8,-7,-6,-5,-4,-3],"labelExpr":"'' + datum.value","title":"Log [agonist] (M)","labelFlush":false,"labelOverlap":false,"titlePadding":5}},
"y":{"datum":127.9,"type":"quantitative","scale":{"domain":[-16,125],"nice":false,"zero":false},"axis":null}}}
]}
],
"columns":2,
"spacing":{"row":65,"column":184},
"bounds":"flush",
"resolve":{"scale":{"color":"independent","shape":"independent","size":"independent","stroke":"independent","fill":"independent"}},
"config":{
"font":"Liberation Sans",
"view":{"stroke":null},
"axis":{"domainColor":"#000","domainWidth":1.3,"tickColor":"#000","tickWidth":1.3,"tickSize":5,"labelColor":"#000","labelFont":"Liberation Sans","labelFontSize":11,"labelFontWeight":"bold","labelPadding":2,"titleColor":"#000","titleFont":"Liberation Sans","titleFontSize":12,"titleFontWeight":"bold","grid":false},
"legend":{"labelColor":"#000","labelFont":"Liberation Sans","labelFontSize":12,"symbolSize":55,"rowPadding":8,"padding":0,"symbolStrokeWidth":0},
"title":{"font":"Liberation Sans","color":"#000"}
}
}
